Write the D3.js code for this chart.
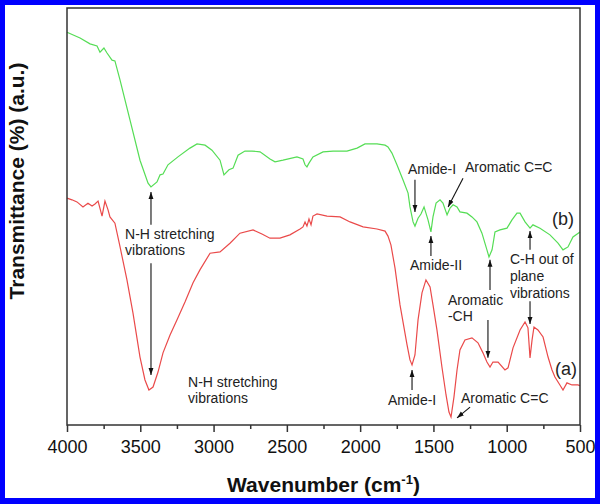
<!DOCTYPE html>
<html>
<head>
<meta charset="utf-8">
<script src="https://cdn.jsdelivr.net/npm/d3@7"></script>
<style>
  html, body { margin: 0; padding: 0; background: #0000ff; }
  svg { display: block; }
  text { font-family: "Liberation Sans", Arial, sans-serif; }
</style>
</head>
<body>
<script>
// ---------------- DATA ----------------
// Curve (b) - green (wavenumber cm-1, transmittance a.u.)
const waveB = [4000,3911,3843,3795,3775,3748,3727,3693,3673,3638,3570,3502,3447,3427,3386,3365,3345,3311,3243,3161,3113,3058,3011,2956,2929,2895,2867,2833,2786,2738,2683,2615,2581,2526,2431,2390,2376,2363,2349,2322,2253,2185,2090,2021,1967,1885,1830,1810,1783,1749,1708,1673,1660,1639,1626,1605,1585,1564,1537,1517,1503,1482,1455,1435,1407,1387,1366,1339,1319,1271,1237,1203,1169,1135,1121,1100,1080,1046,998,964,930,909,875,841,821,773,705,650,616,582,548,500];
const transB = [94.2,92.8,91.4,90.9,89.4,90.4,89.2,87.5,87.3,82.7,73.1,63.5,58.0,57.1,58.3,60.0,60.2,62.4,64.3,66.4,67.4,67.1,65.9,63.5,60.0,61.2,61.6,64.7,65.7,65.7,65.5,63.8,63.1,63.5,64.3,63.8,62.4,61.9,62.8,64.3,65.5,65.7,65.7,66.4,67.4,67.4,67.1,66.7,65.2,62.4,58.8,55.6,52.3,48.7,47.7,49.6,50.6,52.3,49.2,46.3,49.9,53.2,54.0,53.2,50.4,52.0,52.8,52.3,51.1,50.8,49.9,48.7,46.0,42.0,40.3,42.0,46.3,46.8,47.2,49.2,50.8,50.8,48.7,47.2,48.0,47.2,45.6,43.6,42.0,42.7,45.1,46.3];

// Curve (a) - red
const waveA = [4000,3966,3932,3891,3857,3829,3809,3788,3761,3741,3720,3707,3673,3638,3591,3550,3502,3468,3441,3413,3379,3345,3297,3250,3195,3140,3093,3024,2956,2888,2820,2731,2670,2615,2547,2479,2410,2390,2376,2363,2349,2335,2322,2294,2226,2137,2069,1980,1885,1830,1810,1790,1762,1728,1680,1660,1646,1626,1605,1578,1551,1523,1503,1476,1442,1414,1394,1380,1360,1339,1319,1285,1237,1196,1162,1135,1114,1094,1059,1012,991,957,909,875,855,841,827,814,787,752,718,691,671,637,616,589,555,514,500];
const transA = [54.4,54.0,53.5,52.3,53.2,52.5,53.0,53.7,50.1,53.7,51.6,49.9,48.4,42.7,34.8,26.9,16.3,10.8,8.4,9.1,12.7,17.3,21.6,25.2,29.5,34.1,37.2,41.2,41.5,43.6,46.0,46.8,45.8,44.8,44.8,45.6,47.0,47.5,48.7,47.7,49.4,48.0,50.1,50.6,50.1,49.9,48.7,47.5,47.0,46.5,45.3,43.2,37.6,28.8,19.2,15.6,14.4,16.8,25.2,31.7,34.8,33.1,28.8,22.8,13.9,7.2,3.1,1.9,6.7,13.2,18.0,20.4,20.9,19.7,17.3,15.1,13.9,15.1,15.1,13.2,13.7,18.5,22.8,24.7,23.3,16.1,20.4,23.5,22.8,21.1,16.3,13.2,11.5,9.6,8.4,10.1,9.6,9.6,9.4];

// Axis ticks
const majorTicks = [4000,3500,3000,2500,2000,1500,1000,500];
const minorTicks = [3750,3250,2750,2250,1750,1250,750];

// Annotation labels: lines, anchor wavenumber, baseline values per line
const labelLines = [
  ["Amide-I"], ["Aromatic C=C"], ["Amide-II"], ["Aromatic", "-CH"],
  ["C-H out of", "plane", "vibrations"], ["Amide-I"], ["Aromatic C=C"],
  ["N-H stretching", "vibrations"], ["N-H stretching", "vibrations"]
];
const labelWave = [1674, 1285, 1660, 1401, 978, 1810, 1312, 3604, 3174];
const labelVals = [[60.2], [60.7], [37.2], [28.8, 24.9], [38.6, 34.5, 30.5], [4.8], [5.3], [44.6, 40.8], [9.1, 5.3]];

// Series tags
const seriesTags = ["(b)", "(a)"];
const tagWave = [691, 671];
const tagVal = [48.0, 12.0];

// Arrows: [fromWave, fromVal, toWave, toVal]
const arrows = [
  [1626, 58.8, 1626, 51.1],
  [1298, 59.2, 1400, 52.3],
  [1517, 40.5, 1517, 45.3],
  [1114, 32.4, 1114, 39.6],
  [1128, 25.2, 1128, 16.1],
  [841, 42.0, 841, 46.5],
  [841, 29.7, 841, 24.2],
  [1646, 8.4, 1646, 13.2],
  [1250, 4.3, 1339, 1.7],
  [3427, 48.0, 3427, 55.9],
  [3427, 38.8, 3427, 12.0]
];

// ---------------- CHART ----------------
const W = 600, H = 504;
const mLeft = 67, mRight = 580, mTop = 8, mBottom = 425;

const svg = d3.select("body").append("svg").attr("width", W).attr("height", H);

svg.append("rect").attr("x", 0).attr("y", 0).attr("width", W).attr("height", H).attr("fill", "#0000ff");
svg.append("rect").attr("x", 5).attr("y", 5).attr("width", 590).attr("height", 493).attr("fill", "#ffffff");

const x = d3.scaleLinear().domain([4000, 500]).range([mLeft, mRight]);
const y = d3.scaleLinear().domain([0, 100]).range([mBottom, mTop]);

const defs = svg.append("defs");
defs.append("marker").attr("id", "ah").attr("viewBox", "0 0 10 10")
  .attr("refX", 10).attr("refY", 5).attr("markerWidth", 7).attr("markerHeight", 7)
  .attr("markerUnits", "userSpaceOnUse").attr("orient", "auto")
  .append("path").attr("d", "M0,1.5 L10,5 L0,8.5 Z").attr("fill", "#111");

const line = d3.line().x(d => x(d[0])).y(d => y(d[1]));

svg.append("path").datum(waveA.map((w, i) => [w, transA[i]]))
  .attr("d", line).attr("fill", "none").attr("stroke", "#ea4a4a").attr("stroke-width", 1.2);
svg.append("path").datum(waveB.map((w, i) => [w, transB[i]]))
  .attr("d", line).attr("fill", "none").attr("stroke", "#55dd55").attr("stroke-width", 1.2);

// Frame
svg.append("rect").attr("x", mLeft).attr("y", mTop).attr("width", mRight - mLeft).attr("height", mBottom - mTop)
  .attr("fill", "none").attr("stroke", "#333").attr("stroke-width", 1.5);

// Bottom axis
const axMajor = svg.append("g").attr("transform", `translate(0,${mBottom})`)
  .call(d3.axisBottom(x).tickValues(majorTicks).tickSize(7).tickPadding(8).tickFormat(d3.format("d")));
axMajor.select(".domain").remove();
axMajor.selectAll(".tick line").attr("stroke", "#333").attr("stroke-width", 1.5);
axMajor.selectAll(".tick text").attr("font-size", 18).attr("fill", "#111")
  .style("font-family", "'Liberation Sans', Arial, sans-serif");

const axMinor = svg.append("g").attr("transform", `translate(0,${mBottom})`)
  .call(d3.axisBottom(x).tickValues(minorTicks).tickSize(4).tickFormat(""));
axMinor.select(".domain").remove();
axMinor.selectAll(".tick line").attr("stroke", "#333").attr("stroke-width", 1.5);

// Axis titles
const xt = svg.append("text").attr("x", (mLeft + mRight) / 2).attr("y", 492)
  .attr("text-anchor", "middle").attr("font-size", 21).attr("font-weight", "bold").attr("fill", "#111");
xt.append("tspan").text("Wavenumber (cm");
xt.append("tspan").attr("font-size", 13).attr("dy", -8).text("-1");
xt.append("tspan").attr("dy", 8).text(")");

svg.append("text").attr("transform", "translate(24,181) rotate(-90)")
  .attr("text-anchor", "middle").attr("font-size", 21).attr("font-weight", "bold").attr("fill", "#111")
  .text("Transmittance (%) (a.u.)");

// Arrows
svg.append("g").selectAll("line").data(arrows).join("line")
  .attr("x1", d => x(d[0])).attr("y1", d => y(d[1]))
  .attr("x2", d => x(d[2])).attr("y2", d => y(d[3]))
  .attr("stroke", "#111").attr("stroke-width", 1.1).attr("marker-end", "url(#ah)");

// Labels
const lg = svg.append("g");
labelLines.forEach((lines, i) => {
  lines.forEach((t, j) => {
    lg.append("text").attr("x", x(labelWave[i])).attr("y", y(labelVals[i][j]))
      .attr("font-size", 14).attr("fill", "#222").text(t);
  });
});

seriesTags.forEach((t, i) => {
  svg.append("text").attr("x", x(tagWave[i])).attr("y", y(tagVal[i]))
    .attr("font-size", 18).attr("fill", "#222").text(t);
});
</script>
</body>
</html>
